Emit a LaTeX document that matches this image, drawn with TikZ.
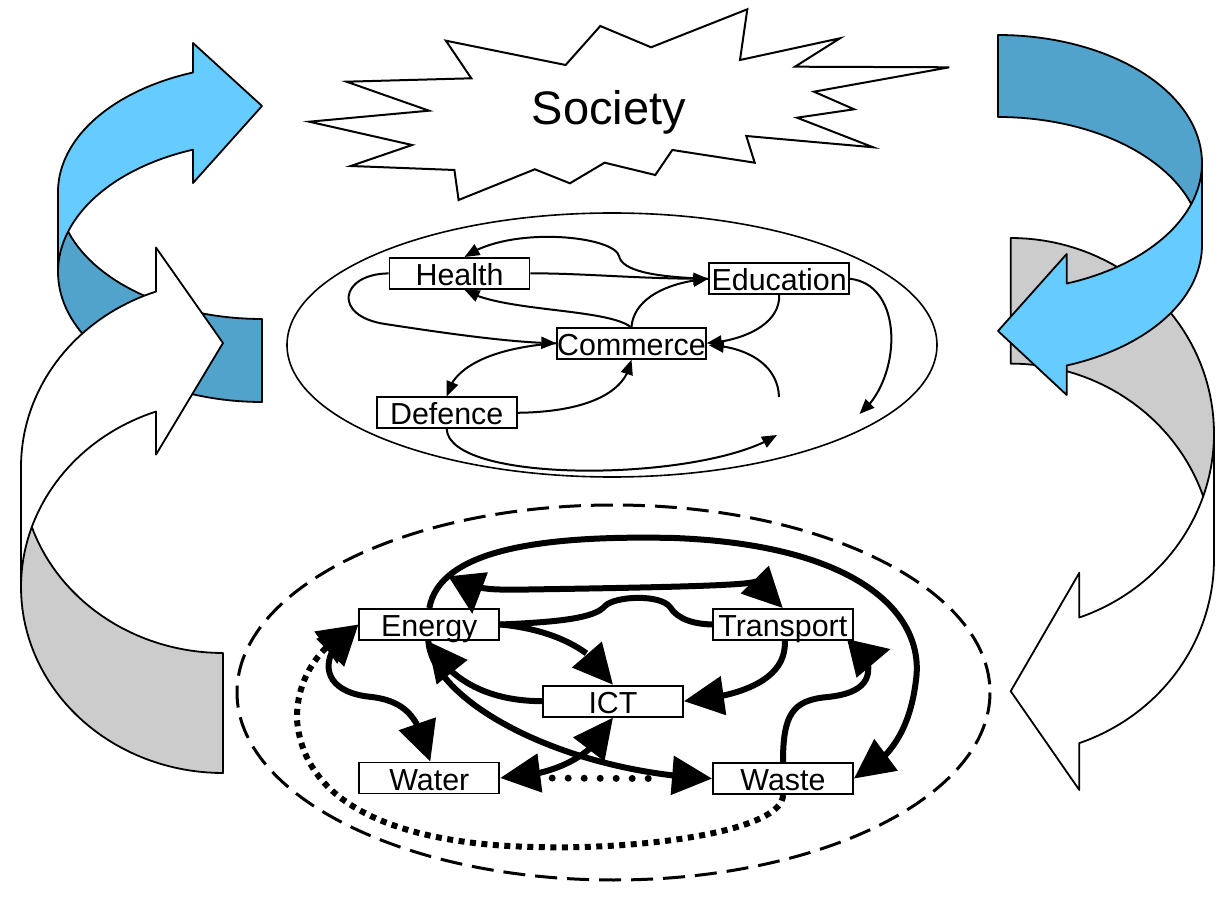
\documentclass[tikz,border=0pt]{standalone}
\usepackage{fontspec}
\setmainfont{Liberation Sans}
\usetikzlibrary{arrows.meta,bending,calc}
\definecolor{lblue}{HTML}{66CCFF}
\definecolor{dblue}{HTML}{52A3CC}
\definecolor{lgray}{HTML}{CCCCCC}
\begin{document}
\begin{tikzpicture}[x=0.5pt,y=-0.5pt,
  ribbon/.style={draw=black, line width=0.9pt, line join=round},
  lbl/.style={draw=black, line width=0.9pt, fill=white, minimum width=70pt, minimum height=15.5pt, inner sep=0pt, text height=13.85pt, text depth=1.65pt, font=\fontsize{15.2pt}{18pt}\selectfont},
  thinarr/.style={line width=1pt, -{Triangle[length=7.5pt,width=6pt]}},
  thickline/.style={line width=3pt},
  thickarr/.style={line width=3pt, -{Triangle[length=20pt,width=19pt]}},
  thickboth/.style={line width=3pt, {Triangle[length=20pt,width=19pt]}-{Triangle[length=20pt,width=19pt]}},
  thickbothq/.style={line width=3pt, {Triangle[length=20pt,width=19pt,quick]}-{Triangle[length=20pt,width=19pt,quick]}},
  rounddots/.style={line width=3.5pt, line cap=round, dash pattern=on 0pt off 8pt},
  squaredots/.style={line width=3pt, dash pattern=on 3pt off 2.75pt, -{Triangle[length=20pt,width=19pt]}},
]
\useasboundingbox (0,0) rectangle (1227,903);
\fill[white] (0,0) rectangle (1227,903);

% ---- left blue curved arrow
\filldraw[ribbon, fill=dblue] plot[domain=180:90, samples=40] ({262+204*cos(\x)},{192+127*sin(\x)})
  -- plot[domain=90:180, samples=40] ({262+204*cos(\x)},{272+130*sin(\x)}) -- cycle;
\filldraw[ribbon, fill=lblue] plot[domain=250.23:180, samples=40] ({262+204*cos(\x)},{192+127*sin(\x)})
  -- plot[domain=180:250.23, samples=40] ({262+204*cos(\x)},{272+130*sin(\x)})
  -- (193,183) -- (262,106) -- (193,43) -- cycle;

% ---- left white curved arrow
\filldraw[ribbon, fill=lgray] plot[domain=180:90, samples=40] ({223+202*cos(\x)},{467+186*sin(\x)})
  -- plot[domain=90:180, samples=40] ({223+202*cos(\x)},{587+186*sin(\x)}) -- cycle;
\filldraw[ribbon, fill=white] plot[domain=250.63:180, samples=40] ({223+202*cos(\x)},{467+186*sin(\x)})
  -- plot[domain=180:250.63, samples=40] ({223+202*cos(\x)},{587+186*sin(\x)})
  -- (156,454.6) -- (223,343) -- (156,247.6) -- cycle;

% ---- right white curved arrow
\filldraw[ribbon, fill=lgray] plot[domain=-90:0, samples=40] ({1010.7+203.3*cos(\x)},{433.5+195.5*sin(\x)})
  -- plot[domain=0:-90, samples=40] ({1010.7+203.3*cos(\x)},{559.1+195.5*sin(\x)}) -- cycle;
\filldraw[ribbon, fill=white] plot[domain=0:70.28, samples=40] ({1010.7+203.3*cos(\x)},{433.5+195.5*sin(\x)})
  -- (1079.3,572.8) -- (1010.7,691.2) -- (1079.3,790)
  -- plot[domain=70.28:0, samples=40] ({1010.7+203.3*cos(\x)},{559.1+195.5*sin(\x)}) -- cycle;

% ---- right blue curved arrow
\filldraw[ribbon, fill=dblue] plot[domain=-90:0, samples=40] ({998+204*cos(\x)},{163+128*sin(\x)})
  -- plot[domain=0:-90, samples=40] ({998+204*cos(\x)},{245+128*sin(\x)}) -- cycle;
\filldraw[ribbon, fill=lblue] plot[domain=0:70.32, samples=40] ({998+204*cos(\x)},{163+128*sin(\x)})
  -- (1066.7,254) -- (998,331) -- (1066.7,395)
  -- plot[domain=70.32:0, samples=40] ({998+204*cos(\x)},{245+128*sin(\x)}) -- cycle;

% ---- Society star
\filldraw[draw=black, fill=white, line width=1pt, line join=miter]
  (309.3,121.7) -- (429,110.7) -- (346.5,81.7) -- (471.3,78.3) -- (445.9,40.7) -- (565.6,65)
  -- (600.3,26) -- (651.1,47.3) -- (747.3,9.3) -- (740,60) -- (840,38.3) -- (795,66.7)
  -- (949.3,67.3) -- (814,91.7) -- (854.1,109.3) -- (797,117.7) -- (873.2,147.3) -- (746.3,136)
  -- (754.7,162.7) -- (672.3,150) -- (655.3,175) -- (604.6,162.7) -- (569.9,183.3) -- (534.8,169.3)
  -- (458.6,200) -- (454.4,170) -- (350.8,166) -- (412.1,145) -- cycle;
\node[anchor=base, inner sep=0pt, font=\fontsize{23.5pt}{28pt}\selectfont] (soc) at (609,125) {Society};

% ---- ellipses
\draw[line width=0.8pt] (612,345) ellipse [x radius=325, y radius=132];
\draw[line width=1.5pt, dash pattern=on 11pt off 5pt] (613.5,692.5) ellipse [x radius=376.5, y radius=187.5];

% ---- upper nodes
\node[lbl] (he) at (459.5,273.4) {Health};
\node[lbl] (ed) at (779.2,278.8) {Education};
\node[lbl] (co) at (631.5,343.2) {Commerce};
\node[lbl] (de) at (446.7,412.8) {Defence};
\coordinate (g0) at (779,397);
\coordinate (h1) at (859.5,414);
\coordinate (k1) at (777,435);

% ---- upper connectors
\draw[thinarr] (ed.west) .. controls (650,277) and (622,270) .. (619,256) .. controls (614,236) and (510,225) .. ($(he.north)+(5,0)$);
\draw[thinarr] (he.east) .. controls (580,273) and (640,279) .. (ed.west);
\draw[thinarr] ($(co.north)+(-1,0)$) .. controls (605,308) and (500,312) .. ($(he.south)+(5,0)$);
\draw[thinarr] (co.north) .. controls (634,298) and (668,282) .. (ed.west);
\draw[thinarr] (he.west) .. controls (340,274) and (332,316) .. (385,324) .. controls (450,334) and (515,343) .. (co.west);
\draw[thinarr] (ed.south) .. controls (780,325) and (742,341) .. (co.east);
\draw[thinarr] (g0) .. controls (778,362) and (742,346) .. ($(co.east)+(2,2)$);
\draw[thinarr] (ed.east) .. controls (905,285) and (902,380) .. (h1);
\draw[thinarr] (co.west) .. controls (490,348) and (452,368) .. (de.north);
\draw[thinarr] (de.east) .. controls (580,412) and (626,396) .. (co.south);
\draw[thinarr] (de.south) .. controls (450,485) and (705,482) .. (k1);

% ---- lower nodes
\node[lbl] (en) at (429.3,624.5) {Energy};
\node[lbl] (tr) at (782.8,624.5) {Transport};
\node[lbl] (ict) at (613,701.2) {ICT};
\node[lbl] (wat) at (429.3,778) {Water};
\node[lbl] (was) at (783,778.6) {Waste};

% ---- lower connectors
\draw[rounddots] ($(wat.east)+(36,0)$) -- ($(was.west)+(-50,0)$);
\draw[squaredots] (was.south) .. controls (783,830) and (650,850) .. (536,847) .. controls (420,845) and (305,815) .. (297,720) .. controls (296,680) and (318,645) .. (en.west);
\draw[thickarr] (en.north) .. controls (440,550) and (540,535) .. (674,538) .. controls (860,545) and (925,615) .. (916,680) .. controls (910,730) and (890,760) .. (was.east);
\draw[thickbothq] ($(en.north)+(43,6)$) .. controls (470,592) and (490,590) .. (560,589) .. controls (680,587) and (760,585) .. (tr.north);
\draw[thickline] (en.east) .. controls (560,622) and (595,618) .. (605,606) .. controls (615,596) and (660,594) .. (670,607) .. controls (678,620) and (695,624) .. (tr.west);
\draw[thickarr] (en.east) .. controls (560,630) and (600,655) .. (ict.north);
\draw[thickarr] (ict.west) .. controls (490,701) and (450,682) .. ($(en.south)+(-2,0)$);
\draw[thickarr] ($(tr.south)+(2,0)$) .. controls (787,680) and (740,697) .. (ict.east);
\draw[line width=3pt, -{Triangle[length=20pt,width=19pt,quick]}] (was.north) .. controls (783,715) and (792,700) .. (828,697) .. controls (865,693) and (873,678) .. (866,655) -- ($(tr.east)+(37,24.5)$);
\draw[thickarr] ($(en.south)+(-1,0)$) .. controls (432,700) and (560,772) .. (was.west);
\draw[thickboth] (en.west) .. controls (318,650) and (315,692) .. (372,697) .. controls (410,702) and (420,722) .. ($(wat.north)+(1,0)$);
\draw[thickboth] (wat.east) .. controls (560,776) and (598,752) .. (ict.south);
\end{tikzpicture}
\end{document}
